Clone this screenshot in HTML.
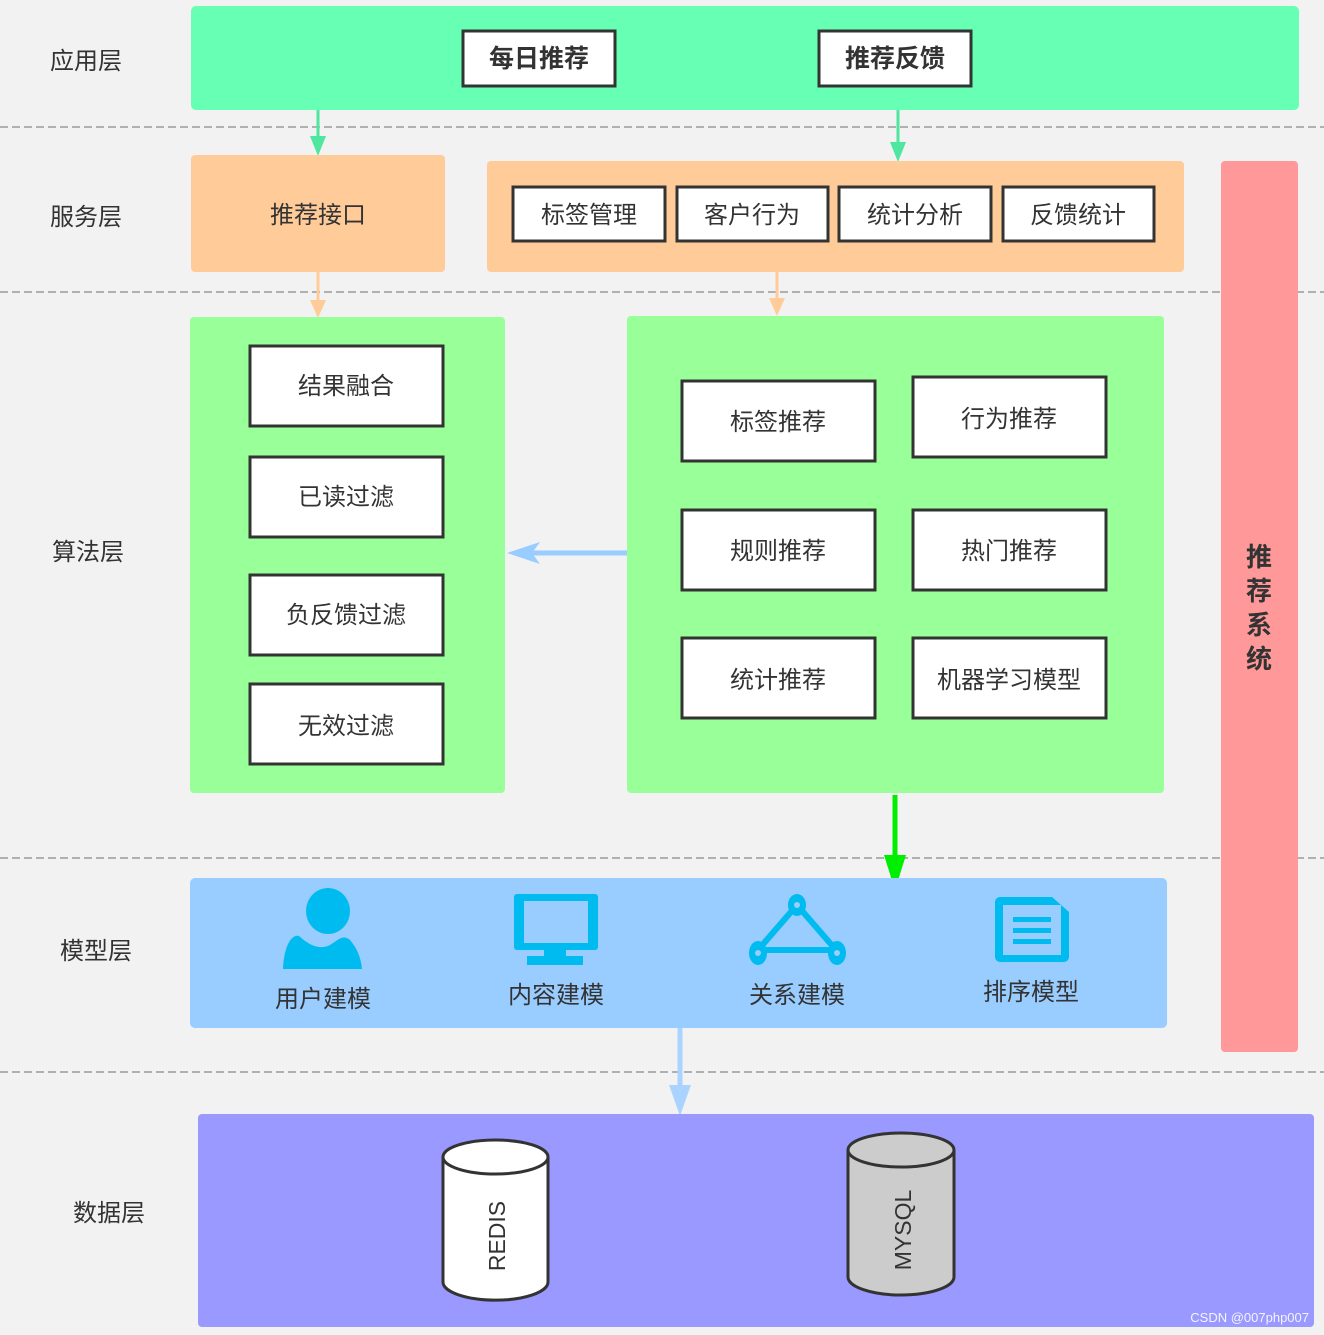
<!DOCTYPE html>
<html><head><meta charset="utf-8"><style>
html,body{margin:0;padding:0;background:#f2f2f2}
svg{display:block}
text{font-family:"Liberation Sans","Noto Sans CJK SC",sans-serif;fill:#333}
</style></head><body>
<svg width="1324" height="1335" viewBox="0 0 1324 1335" xmlns="http://www.w3.org/2000/svg">
<rect width="1324" height="1335" fill="#f2f2f2"/>
<g stroke="#999" stroke-width="1.5" stroke-dasharray="8,4">
<line x1="0" y1="127" x2="1324" y2="127"/>
<line x1="0" y1="292" x2="1324" y2="292"/>
<line x1="0" y1="858" x2="1324" y2="858"/>
<line x1="0" y1="1072" x2="1324" y2="1072"/>
</g>
<g font-size="24">
<text x="50" y="69">应用层</text>
<text x="50" y="225">服务层</text>
<text x="52" y="560">算法层</text>
<text x="60" y="959">模型层</text>
<text x="73" y="1221">数据层</text>
</g>
<!-- red vertical -->
<rect x="1221" y="161" width="77" height="891" rx="4" fill="#ff9999"/>
<g font-size="26" font-weight="bold" text-anchor="middle">
<text x="1259" y="566">推</text><text x="1259" y="600">荐</text><text x="1259" y="634">系</text><text x="1259" y="668">统</text>
</g>
<!-- app layer -->
<rect x="191" y="6" width="1108" height="104" rx="5" fill="#66ffb3"/>
<g fill="#fff" stroke="#333" stroke-width="3">
<rect x="463" y="31" width="152" height="55"/><rect x="819" y="31" width="152" height="55"/>
</g>
<g font-size="25" font-weight="bold" text-anchor="middle">
<text x="539" y="67">每日推荐</text><text x="895" y="67">推荐反馈</text>
</g>
<!-- arrows app->service -->
<g stroke="#4fe6a0" stroke-width="3"><line x1="318" y1="110" x2="318" y2="140"/><line x1="898" y1="110" x2="898" y2="146"/></g>
<g fill="#4fe6a0"><polygon points="310,136 326,136 318,156"/><polygon points="890,142 906,142 898,162"/></g>
<!-- service -->
<rect x="191" y="155" width="254" height="117" rx="4" fill="#ffcc99"/>
<rect x="487" y="161" width="697" height="111" rx="4" fill="#ffcc99"/>
<text x="318" y="223" font-size="24" text-anchor="middle">推荐接口</text>
<g fill="#fff" stroke="#333" stroke-width="3">
<rect x="513" y="187" width="152" height="54"/><rect x="677" y="187" width="151" height="54"/>
<rect x="839" y="187" width="152" height="54"/><rect x="1003" y="187" width="151" height="54"/>
</g>
<g font-size="24" text-anchor="middle">
<text x="589" y="223">标签管理</text><text x="752" y="223">客户行为</text><text x="915" y="223">统计分析</text><text x="1078" y="223">反馈统计</text>
</g>
<g stroke="#ffcc99" stroke-width="3"><line x1="318" y1="272" x2="318" y2="304"/><line x1="777" y1="272" x2="777" y2="302"/></g>
<g fill="#ffcc99"><polygon points="310,300 326,300 318,318"/><polygon points="769,298 785,298 777,316"/></g>
<!-- algo -->
<rect x="190" y="317" width="315" height="476" rx="4" fill="#99ff99"/>
<rect x="627" y="316" width="537" height="477" rx="4" fill="#99ff99"/>
<g fill="#fff" stroke="#333" stroke-width="3">
<rect x="250" y="346" width="193" height="80"/><rect x="250" y="457" width="193" height="80"/>
<rect x="250" y="575" width="193" height="80"/><rect x="250" y="684" width="193" height="80"/>
<rect x="682" y="381" width="193" height="80"/><rect x="913" y="377" width="193" height="80"/>
<rect x="682" y="510" width="193" height="80"/><rect x="913" y="510" width="193" height="80"/>
<rect x="682" y="638" width="193" height="80"/><rect x="913" y="638" width="193" height="80"/>
</g>
<g font-size="24" text-anchor="middle">
<text x="346" y="394">结果融合</text><text x="346" y="505">已读过滤</text>
<text x="346" y="623">负反馈过滤</text><text x="346" y="734">无效过滤</text>
<text x="778" y="430">标签推荐</text><text x="1009" y="427">行为推荐</text>
<text x="778" y="559">规则推荐</text><text x="1009" y="559">热门推荐</text>
<text x="778" y="688">统计推荐</text><text x="1009" y="688">机器学习模型</text>
</g>
<line x1="627" y1="553" x2="530" y2="553" stroke="#99ccff" stroke-width="5"/>
<polygon points="507,553 540,542 532,553 540,564" fill="#99ccff"/>
<line x1="895" y1="795" x2="895" y2="865" stroke="#00ee00" stroke-width="5"/>
<polygon points="884,855 906,855 895,890" fill="#00ee00"/>
<!-- model -->
<rect x="190" y="878" width="977" height="150" rx="5" fill="#99ccff"/>
<g fill="#00bbf0">
<ellipse cx="328" cy="911" rx="22" ry="23"/>
<path d="M283,969 C284,945 292,934 299,936 C310,946 320,950 330,945 C338,940 343,934 350,940 C357,948 361,958 362,969 Z"/>
<rect x="514" y="894" width="84" height="56" rx="3"/><rect x="524" y="901" width="64" height="42" fill="#99ccff"/>
<rect x="544" y="948" width="22" height="10"/><rect x="527" y="956" width="56" height="9"/>
<rect x="995" y="897" width="74" height="65" rx="5"/>
</g>
<rect x="1003" y="905" width="58" height="50" fill="#99ccff"/>
<polygon points="1052,897 1069,897 1069,912" fill="#99ccff"/>
<g fill="#00bbf0"><rect x="1013" y="917" width="38" height="5"/><rect x="1013" y="928" width="38" height="5"/><rect x="1013" y="939" width="38" height="5"/></g>
<g stroke="#00bbf0" stroke-width="6" fill="none">
<polyline points="797,905 758,950 836,950 797,905"/>
</g>
<g fill="#00bbf0"><ellipse cx="797" cy="905" rx="9" ry="11"/><ellipse cx="758" cy="953" rx="9" ry="12"/><ellipse cx="837" cy="953" rx="9" ry="12"/></g>
<g fill="#99ccff"><circle cx="797" cy="905" r="3"/><circle cx="758" cy="953" r="3"/><circle cx="837" cy="953" r="3"/></g>
<g font-size="24" text-anchor="middle">
<text x="323" y="1007">用户建模</text><text x="556" y="1003">内容建模</text>
<text x="797" y="1003">关系建模</text><text x="1031" y="1000">排序模型</text>
</g>
<line x1="680" y1="1028" x2="680" y2="1092" stroke="#aad4ff" stroke-width="5"/>
<polygon points="669,1085 691,1085 680,1116" fill="#aad4ff"/>
<!-- data -->
<rect x="198" y="1114" width="1116" height="213" rx="4" fill="#9999ff"/>
<g stroke="#333" stroke-width="3">
<path d="M443,1157 L443,1282 A52,18 0 0 0 548,1282 L548,1157" fill="#fff"/>
<ellipse cx="495.5" cy="1157" rx="52.5" ry="17" fill="#fff"/>
<path d="M848,1150 L848,1277 A53,18 0 0 0 954,1277 L954,1150" fill="#ccc"/>
<ellipse cx="901" cy="1150" rx="53" ry="17" fill="#ccc"/>
</g>
<text transform="translate(505,1236) rotate(-90)" font-size="23" text-anchor="middle">REDIS</text>
<text transform="translate(911,1230) rotate(-90)" font-size="23" text-anchor="middle">MYSQL</text>
<text x="1309" y="1322" font-size="13" text-anchor="end" fill="#fff" style="fill:#f4f4ff">CSDN @007php007</text>
</svg>
</body></html>
